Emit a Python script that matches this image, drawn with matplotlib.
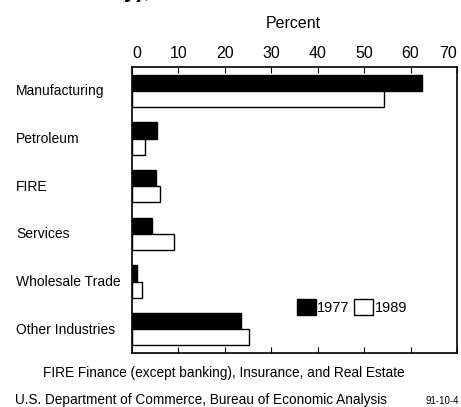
import matplotlib
matplotlib.use("Agg")
import matplotlib.pyplot as plt
from matplotlib.patches import Patch
import numpy as np

plt.rcParams['font.family'] = ['Liberation Sans Narrow', 'Liberation Sans', 'DejaVu Sans']

categories = ["Manufacturing", "Petroleum", "FIRE", "Services", "Wholesale Trade", "Other Industries"]
values_1977 = [62.5, 5.3, 5.2, 4.2, 1.1, 23.5]
values_1989 = [54.3, 2.9, 6.1, 9.1, 2.1, 25.2]
xticks = [0, 10, 20, 30, 40, 50, 60, 70]

fig = plt.figure(figsize=(4.61, 4.07), dpi=100)
ax = fig.add_axes([132/461, 1-353/407, 325/461, 286/407])

y = np.arange(len(categories))
h = 0.34
ax.barh(y - h/2, values_1977, height=h, color='black', edgecolor='black', linewidth=1.0, label='1977')
ax.barh(y + h/2, values_1989, height=h, color='white', edgecolor='black', linewidth=1.0, label='1989')

ax.set_xlim(0, 70)
ax.set_ylim(len(categories) - 0.5, -0.5)
ax.set_xticks(xticks)
ax.xaxis.tick_top()
ax.tick_params(axis='x', which='both', top=True, bottom=True, direction='in', length=4,
               labelsize=11.5, pad=4, labeltop=True, labelbottom=False)
ax.set_yticks([])
for s in ax.spines.values():
    s.set_linewidth(1.2)

fig.canvas.draw()
labels = ax.get_xticklabels()
labels[-1].set_horizontalalignment('right')
labels[0].set_horizontalalignment('left')

for yi, c in zip(y, categories):
    fig.text(16/461, 1 - (91 + yi * 47.8)/407, c, ha='left', va='center', fontsize=10)

fig.text(293/461, 1 - 24/407, "Percent", ha='center', va='center', fontsize=11.5)

ax.legend(handles=[Patch(facecolor='black', edgecolor='black', label='1977'),
                   Patch(facecolor='white', edgecolor='black', label='1989')],
          loc='center', bbox_to_anchor=(352/461, 1 - 307/407), bbox_transform=fig.transFigure,
          ncol=2, frameon=False, handlelength=1.3, handleheight=1.3, handletextpad=0.1,
          columnspacing=0.3, fontsize=10.5, borderpad=0)

fig.text(43/461, 1 - 373/407, "FIRE Finance (except banking), Insurance, and Real Estate",
         ha='left', va='center', fontsize=9.8)
fig.text(15/461, 1 - 400/407, "U.S. Department of Commerce, Bureau of Economic Analysis",
         ha='left', va='center', fontsize=9.8)
fig.text(425/461, 1 - 401/407, "91-10-4", ha='left', va='center', fontsize=7)

fig.text(150/461, 1 + 3/407, "Industry),", ha='right', va='baseline', fontsize=16, fontweight='bold',
         family=['Liberation Sans', 'DejaVu Sans'])

fig.savefig("out.png", dpi=100)
